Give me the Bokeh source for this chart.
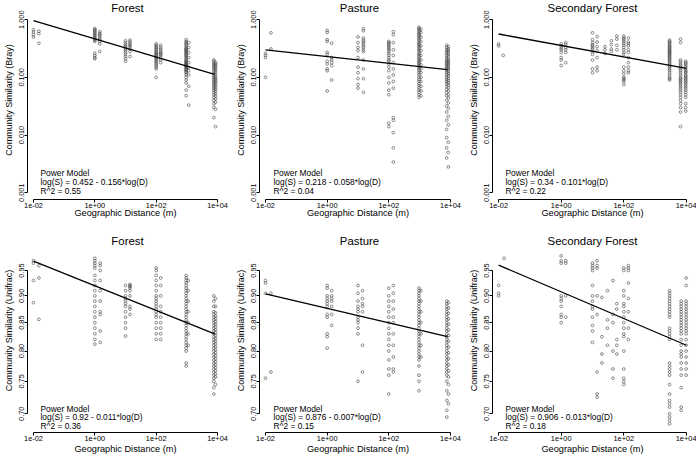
from bokeh.plotting import figure
from bokeh.layouts import gridplot
from bokeh.models import Range1d, FixedTicker, Label
from bokeh.embed import file_html
from bokeh.resources import INLINE

FONT = "Liberation Sans"

# ---------------- axis ticks ----------------
x_ticks = [0.01, 1, 100, 10000]
x_tick_labels = ["1e-02", "1e+00", "1e+02", "1e+04"]
bray_ticks = [0.001, 0.01, 0.1, 1]
bray_tick_labels = ["0.001", "0.010", "0.100", "1.000"]
unifrac_ticks = [0.70, 0.75, 0.80, 0.85, 0.90, 0.95]
unifrac_tick_labels = ["0.70", "0.75", "0.80", "0.85", "0.90", "0.95"]

titles = ["Forest", "Pasture", "Secondary Forest", "Forest", "Pasture", "Secondary Forest"]
y_labels = ["Community Similarity (Bray)"] * 3 + ["Community Similarity (Unifrac)"] * 3
x_label = "Geographic Distance (m)"

# ---------------- data: Forest, Bray ----------------
fb_x = [0.01, 0.015, 1, 1.45, 10, 14, 100, 140, 950, 1150, 7600, 8600]
fb_y = [
    [0.67, 0.61, 0.55, 0.50],
    [0.63, 0.57, 0.39],
    [0.70, 0.67, 0.64, 0.61, 0.58, 0.55, 0.53, 0.50, 0.48, 0.46, 0.44, 0.42, 0.26, 0.24, 0.22, 0.21],
    [0.62, 0.58, 0.55, 0.52, 0.48, 0.45, 0.42, 0.38, 0.28],
    [0.43, 0.40, 0.37, 0.35, 0.33, 0.31, 0.29, 0.27, 0.25, 0.23, 0.21, 0.19],
    [0.44, 0.41, 0.38, 0.36, 0.34, 0.31, 0.28, 0.23],
    [0.38, 0.36, 0.34, 0.33, 0.31, 0.30, 0.28, 0.27, 0.26, 0.25, 0.24, 0.23, 0.22, 0.21, 0.20, 0.19, 0.18, 0.17, 0.16, 0.15, 0.14, 0.10],
    [0.36, 0.33, 0.31, 0.29, 0.27, 0.26, 0.25, 0.24, 0.22, 0.20, 0.18],
    [0.45, 0.42, 0.40, 0.38, 0.36, 0.34, 0.32, 0.31, 0.30, 0.29, 0.28, 0.27, 0.26, 0.25, 0.24, 0.23, 0.22, 0.21, 0.20, 0.19,
     0.185, 0.18, 0.175, 0.17, 0.165, 0.16, 0.155, 0.15, 0.145, 0.14, 0.135, 0.13, 0.125, 0.12, 0.11, 0.10, 0.09, 0.08, 0.06, 0.048],
    [0.40, 0.33, 0.27, 0.22, 0.18, 0.15, 0.13, 0.11, 0.07, 0.033],
    [0.20, 0.19, 0.175, 0.165, 0.155, 0.145, 0.135, 0.125, 0.115, 0.105, 0.098, 0.092, 0.086, 0.080, 0.075, 0.070, 0.065,
     0.060, 0.055, 0.050, 0.045, 0.040, 0.035, 0.030, 0.020],
    [0.18, 0.17, 0.16, 0.15, 0.14, 0.13, 0.12, 0.11, 0.10, 0.095, 0.089, 0.083, 0.078, 0.072, 0.067, 0.062, 0.057, 0.052,
     0.047, 0.042, 0.037, 0.028, 0.014],
]

# ---------------- data: Pasture, Bray ----------------
pb_x = [0.01, 0.015, 1, 1.4, 10, 15, 100, 140, 950, 1100, 7500, 8500]
pb_y = [
    [0.26, 0.24, 0.22, 0.10],
    [0.59, 0.31],
    [0.65, 0.60, 0.45, 0.42, 0.27, 0.25, 0.19, 0.17, 0.14, 0.13, 0.058],
    [0.39, 0.22, 0.20, 0.18, 0.16, 0.09],
    [0.50, 0.40, 0.33, 0.29, 0.22, 0.15, 0.12, 0.095, 0.075, 0.065],
    [0.70, 0.64, 0.48, 0.44, 0.41, 0.38, 0.35, 0.33, 0.30, 0.28, 0.20, 0.14, 0.095, 0.055],
    [0.42, 0.40, 0.38, 0.36, 0.34, 0.32, 0.30, 0.28, 0.26, 0.24, 0.22, 0.20, 0.19, 0.17, 0.15, 0.13, 0.10, 0.08, 0.06,
     0.05, 0.016, 0.014],
    [0.62, 0.55, 0.40, 0.30, 0.24, 0.18, 0.14, 0.11, 0.085, 0.065, 0.020, 0.018, 0.011, 0.006, 0.0034],
    [0.74, 0.70, 0.66, 0.62, 0.58, 0.55, 0.52, 0.49, 0.46, 0.43, 0.40, 0.38, 0.36, 0.34, 0.32, 0.30, 0.28, 0.26, 0.245,
     0.23, 0.215, 0.20, 0.19, 0.18, 0.17, 0.16, 0.15, 0.14, 0.13, 0.12, 0.11, 0.10, 0.092, 0.085, 0.078, 0.072, 0.066,
     0.06, 0.055, 0.05, 0.045],
    [0.68, 0.60, 0.50, 0.42, 0.35, 0.29, 0.24, 0.20, 0.165, 0.14, 0.12, 0.10, 0.085, 0.07, 0.058, 0.048],
    [0.36, 0.33, 0.30, 0.28, 0.26, 0.24, 0.22, 0.205, 0.19, 0.18, 0.17, 0.16, 0.15, 0.14, 0.13, 0.12, 0.11, 0.10, 0.092,
     0.085, 0.078, 0.07, 0.062, 0.055, 0.048, 0.04, 0.032, 0.025, 0.018, 0.0125, 0.009, 0.006, 0.004],
    [0.34, 0.31, 0.29, 0.27, 0.25, 0.23, 0.21, 0.195, 0.185, 0.175, 0.165, 0.155, 0.145, 0.135, 0.125, 0.115, 0.105,
     0.095, 0.088, 0.08, 0.073, 0.066, 0.058, 0.05, 0.044, 0.036, 0.029, 0.021, 0.015, 0.0075, 0.005, 0.0028],
]

# ---------------- data: Secondary Forest, Bray ----------------
sb_x = [0.01, 0.014, 1, 1.4, 10, 14, 25, 40, 60, 100, 140, 2900, 6500, 9500]
sb_y = [
    [0.38, 0.35],
    [0.24],
    [0.38, 0.35, 0.32, 0.30, 0.27, 0.22, 0.20, 0.16],
    [0.40, 0.37, 0.33, 0.30, 0.27, 0.18],
    [0.59, 0.45, 0.40, 0.37, 0.35, 0.33, 0.31, 0.28, 0.25, 0.20, 0.14, 0.12],
    [0.51, 0.41, 0.34, 0.29, 0.22, 0.15, 0.13],
    [0.34, 0.30, 0.26],
    [0.43, 0.37, 0.31, 0.28],
    [0.52, 0.46, 0.36, 0.30],
    [0.52, 0.48, 0.45, 0.42, 0.39, 0.36, 0.33, 0.30, 0.27, 0.25, 0.15, 0.13, 0.115, 0.10, 0.095, 0.09, 0.085, 0.075],
    [0.48, 0.41, 0.38, 0.35, 0.30, 0.27, 0.22, 0.18, 0.15, 0.13, 0.12],
    [0.44, 0.42, 0.40, 0.38, 0.36, 0.345, 0.33, 0.315, 0.30, 0.29, 0.28, 0.27, 0.26, 0.25, 0.24, 0.23, 0.22, 0.21, 0.20,
     0.19, 0.18, 0.17, 0.16, 0.15, 0.14, 0.13, 0.12, 0.11, 0.10, 0.095, 0.09],
    [0.46, 0.40, 0.20, 0.185, 0.17, 0.16, 0.15, 0.14, 0.13, 0.12, 0.11, 0.10, 0.095, 0.09, 0.085, 0.08, 0.075, 0.07,
     0.065, 0.06, 0.055, 0.05, 0.045, 0.04, 0.035, 0.03, 0.025, 0.014],
    [0.19, 0.18, 0.17, 0.16, 0.15, 0.14, 0.13, 0.125, 0.12, 0.11, 0.105, 0.10, 0.095, 0.09, 0.085, 0.08, 0.075, 0.07,
     0.065, 0.06, 0.055, 0.05, 0.045, 0.035, 0.03, 0.026],
]

# ---------------- data: Forest, Unifrac ----------------
fu_x = [0.01, 0.015, 1, 1.5, 10, 14, 100, 140, 950, 1100, 7600, 8600]
fu_y = [
    [0.97, 0.965, 0.93, 0.887],
    [0.96, 0.935, 0.856],
    [0.975, 0.97, 0.965, 0.96, 0.955, 0.94, 0.93, 0.92, 0.91, 0.90, 0.89, 0.88, 0.87, 0.86, 0.85, 0.84, 0.83, 0.82, 0.812],
    [0.965, 0.96, 0.95, 0.93, 0.91, 0.89, 0.87, 0.865, 0.835, 0.815],
    [0.92, 0.91, 0.90, 0.895, 0.89, 0.885, 0.88, 0.87, 0.86, 0.85, 0.84, 0.826],
    [0.922, 0.92, 0.918, 0.915, 0.91, 0.90, 0.88, 0.875, 0.865],
    [0.955, 0.95, 0.94, 0.93, 0.92, 0.91, 0.90, 0.895, 0.89, 0.885, 0.88, 0.875, 0.87, 0.865, 0.86, 0.85, 0.84, 0.83, 0.82],
    [0.935, 0.92, 0.90, 0.88, 0.87, 0.86, 0.85, 0.84, 0.83, 0.82],
    [0.94, 0.935, 0.93, 0.925, 0.92, 0.915, 0.91, 0.905, 0.90, 0.895, 0.89, 0.885, 0.88, 0.875, 0.87, 0.865, 0.86, 0.855,
     0.85, 0.845, 0.84, 0.835, 0.83, 0.825, 0.82, 0.815, 0.81, 0.805, 0.80, 0.78, 0.775],
    [0.93, 0.91, 0.89, 0.87, 0.85, 0.83, 0.81],
    [0.90, 0.89, 0.88, 0.87, 0.865, 0.86, 0.855, 0.85, 0.845, 0.84, 0.835, 0.83, 0.825, 0.82, 0.815, 0.81, 0.805, 0.80,
     0.795, 0.79, 0.785, 0.78, 0.775, 0.77, 0.765, 0.76, 0.755, 0.75, 0.74, 0.73],
    [0.895, 0.88, 0.868, 0.862, 0.857, 0.852, 0.847, 0.842, 0.837, 0.832, 0.827, 0.822, 0.817, 0.812, 0.807, 0.802, 0.797,
     0.792, 0.787, 0.782, 0.777, 0.772, 0.767, 0.762, 0.757, 0.745],
]

# ---------------- data: Pasture, Unifrac ----------------
pu_x = [0.01, 0.015, 1, 1.4, 10, 14, 100, 140, 950, 1100, 7600, 8600]
pu_y = [
    [0.93, 0.925, 0.905, 0.755],
    [0.905, 0.765],
    [0.92, 0.915, 0.90, 0.895, 0.89, 0.885, 0.88, 0.865, 0.86, 0.83, 0.825, 0.805],
    [0.91, 0.90, 0.895, 0.89, 0.88, 0.865, 0.845],
    [0.92, 0.905, 0.89, 0.88, 0.875, 0.87, 0.86, 0.855, 0.85, 0.84, 0.83, 0.75],
    [0.91, 0.895, 0.885, 0.88, 0.87, 0.81, 0.765],
    [0.915, 0.90, 0.89, 0.88, 0.87, 0.86, 0.85, 0.84, 0.83, 0.82, 0.81, 0.80, 0.785, 0.77, 0.76, 0.73],
    [0.92, 0.905, 0.89, 0.875, 0.86, 0.85, 0.83, 0.81, 0.79, 0.77, 0.765],
    [0.915, 0.91, 0.905, 0.90, 0.895, 0.89, 0.885, 0.88, 0.875, 0.87, 0.865, 0.86, 0.855, 0.85, 0.845, 0.84, 0.835, 0.83,
     0.825, 0.82, 0.815, 0.81, 0.805, 0.80, 0.795, 0.79, 0.785, 0.775, 0.76, 0.75, 0.735],
    [0.91, 0.89, 0.87, 0.85, 0.83, 0.81, 0.79],
    [0.89, 0.885, 0.88, 0.875, 0.87, 0.865, 0.86, 0.855, 0.85, 0.845, 0.84, 0.835, 0.83, 0.825, 0.82, 0.815, 0.81, 0.805,
     0.80, 0.795, 0.79, 0.785, 0.78, 0.775, 0.77, 0.765, 0.76, 0.75, 0.735, 0.72, 0.705, 0.695],
    [0.887, 0.877, 0.867, 0.857, 0.847, 0.837, 0.827, 0.817, 0.807, 0.797, 0.787, 0.777, 0.767, 0.757, 0.745, 0.73, 0.715],
]

# ---------------- data: Secondary Forest, Unifrac ----------------
su_x = [0.01, 0.015, 1, 1.4, 10, 14, 20, 30, 45, 60, 100, 140, 2900, 6800, 9800]
su_y = [
    [0.92, 0.905, 0.90],
    [0.975],
    [0.98, 0.97, 0.965, 0.90, 0.895, 0.89, 0.88, 0.865, 0.86, 0.85],
    [0.97, 0.965, 0.90, 0.86],
    [0.965, 0.96, 0.955, 0.95, 0.92, 0.90, 0.89, 0.88, 0.875, 0.86, 0.845, 0.835, 0.815],
    [0.97, 0.96, 0.955, 0.90, 0.865, 0.765, 0.73, 0.725],
    [0.897, 0.825, 0.795, 0.78],
    [0.91, 0.855, 0.84, 0.81],
    [0.93, 0.865, 0.85, 0.80, 0.77, 0.755],
    [0.885, 0.875, 0.82, 0.81, 0.795],
    [0.955, 0.95, 0.91, 0.90, 0.885, 0.88, 0.87, 0.86, 0.85, 0.84, 0.83, 0.825, 0.80, 0.77, 0.755, 0.75, 0.745],
    [0.96, 0.955, 0.95, 0.925, 0.895, 0.87, 0.84, 0.82],
    [0.91, 0.905, 0.90, 0.895, 0.89, 0.885, 0.88, 0.875, 0.87, 0.865, 0.86, 0.84, 0.835, 0.83, 0.825, 0.82, 0.78, 0.775,
     0.77, 0.765, 0.76, 0.745, 0.73, 0.72, 0.715, 0.71, 0.70, 0.695, 0.69, 0.685],
    [0.89, 0.885, 0.88, 0.875, 0.87, 0.865, 0.86, 0.855, 0.85, 0.845, 0.84, 0.835, 0.83, 0.82, 0.81, 0.80, 0.795, 0.79,
     0.78, 0.77, 0.76, 0.74, 0.71, 0.705],
    [0.935, 0.92, 0.89, 0.885, 0.88, 0.875, 0.87, 0.865, 0.86, 0.855, 0.85, 0.845, 0.84, 0.835, 0.83, 0.82, 0.81, 0.80,
     0.79, 0.78, 0.77, 0.76],
]

# ---------------- fitted power-model lines (end points) ----------------
fit_x = [[0.01, 8000], [0.01, 8000], [0.01, 10000], [0.01, 8000], [0.01, 8000], [0.01, 10000]]
fit_y = [[0.96, 0.113], [0.298, 0.136], [0.564, 0.143], [0.969, 0.830], [0.904, 0.825], [0.961, 0.81]]

model_texts = [
    ["Power Model", "log(S) = 0.452 - 0.156*log(D)", "R^2 = 0.55"],
    ["Power Model", "log(S) = 0.218 - 0.058*log(D)", "R^2 = 0.04"],
    ["Power Model", "log(S) = 0.34 - 0.101*log(D)", "R^2 = 0.22"],
    ["Power Model", "log(S) = 0.92 - 0.011*log(D)", "R^2 = 0.36"],
    ["Power Model", "log(S) = 0.876 - 0.007*log(D)", "R^2 = 0.15"],
    ["Power Model", "log(S) = 0.906 - 0.013*log(D)", "R^2 = 0.18"],
]

panel_x = [fb_x, pb_x, sb_x, fu_x, pu_x, su_x]
panel_y = [fb_y, pb_y, sb_y, fu_y, pu_y, su_y]

# ---------------- layout ----------------
col_width = 232
col_left = [23, 24, 28]
frame_w = 200
row_height = 228
row_bottom = [29, 24]
x_range = (10 ** -2.195, 10 ** 4.195)
y_ranges = [(10 ** -3.118, 10 ** 0.332), (0.6725, 1.039)]
title_from_bottom = [192, 191.3]
text_left = [13, 14, 13]
text_rows = [[26.3, 17.3, 8.3], [24.0, 15.7, 6.7]]
xlab_standoff = [-3, 0]


def flatten(xs, ys):
    fx, fy = [], []
    for xv, yl in zip(xs, ys):
        for yv in yl:
            fx.append(xv)
            fy.append(yv)
    return fx, fy


figs = []
for i in range(6):
    r, c = divmod(i, 3)
    frame_h = row_height - row_bottom[r]
    p = figure(
        width=col_width, height=row_height,
        x_axis_type="log", y_axis_type="log",
        x_range=Range1d(*x_range), y_range=Range1d(*y_ranges[r]),
        output_backend="svg", toolbar_location=None,
        min_border_left=col_left[c], min_border_right=col_width - col_left[c] - frame_w,
        min_border_top=0, min_border_bottom=row_bottom[r],
        background_fill_color="white", border_fill_color="white",
    )
    p.outline_line_color = None
    p.grid.visible = False

    yt = bray_ticks if r == 0 else unifrac_ticks
    ytl = bray_tick_labels if r == 0 else unifrac_tick_labels

    for ax in (p.xaxis[0], p.yaxis[0]):
        ax.axis_line_color = "black"
        ax.axis_line_width = 1
        ax.major_tick_line_color = "black"
        ax.major_tick_line_width = 1
        ax.major_tick_in = 0
        ax.major_tick_out = 3
        ax.minor_tick_line_color = None
        ax.major_label_text_font = FONT
        ax.major_label_text_font_size = "7.4px"
        ax.major_label_text_color = "black"
        ax.major_label_standoff = 0
        ax.axis_label_text_font = FONT
        ax.axis_label_text_font_style = "normal"
        ax.axis_label_text_color = "black"

    p.xaxis.ticker = FixedTicker(ticks=x_ticks)
    p.xaxis.major_label_overrides = dict(zip(x_ticks, x_tick_labels))
    p.xaxis.bounds = (x_ticks[0], x_ticks[-1])
    p.xaxis.axis_label = x_label
    p.xaxis.axis_label_text_font_size = "9.2px"
    p.xaxis.axis_label_standoff = xlab_standoff[r]

    p.yaxis.ticker = FixedTicker(ticks=yt)
    p.yaxis.major_label_overrides = dict(zip(yt, ytl))
    p.yaxis.bounds = (yt[0], yt[-1])
    p.yaxis.major_label_orientation = "vertical"
    p.yaxis.axis_label = y_labels[i]
    p.yaxis.axis_label_text_font_size = "9px"
    p.yaxis.axis_label_standoff = 3

    fx, fy = flatten(panel_x[i], panel_y[i])
    p.scatter(fx, fy, marker="circle", size=2.8, fill_color=None,
              line_color="#444444", line_width=0.6)
    p.line(fit_x[i], fit_y[i], line_color="black", line_width=1.3)

    p.add_layout(Label(x=frame_w / 2, y=title_from_bottom[r], x_units="screen", y_units="screen",
                       text=titles[i], text_align="center", text_baseline="middle",
                       text_font=FONT, text_font_size="11.4px", text_font_style="normal",
                       text_color="black"))
    for t, yy in zip(model_texts[i], text_rows[r]):
        p.add_layout(Label(x=text_left[c], y=yy, x_units="screen", y_units="screen",
                           text=t, text_align="left", text_baseline="middle",
                           text_font=FONT, text_font_size="8.4px", text_font_style="normal",
                           text_color="black"))
    figs.append(p)

grid = gridplot([figs[0:3], figs[3:6]], toolbar_location=None)

with open("out.html", "w") as f:
    f.write(file_html(grid, INLINE))
